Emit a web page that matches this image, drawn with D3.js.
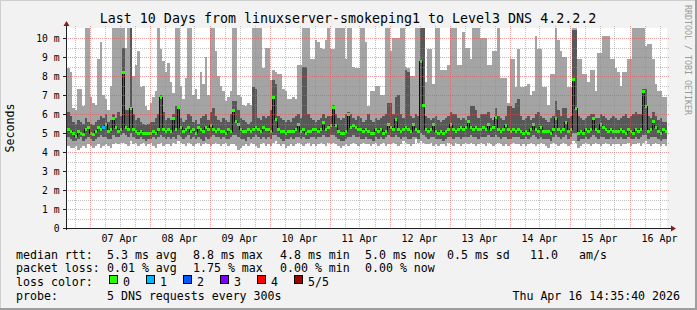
<!DOCTYPE html>
<html>
<head>
<meta charset="utf-8">
<script src="https://cdn.jsdelivr.net/npm/d3@7"></script>
<style>
  body { margin: 0; background: #fff; }
  text { font-family: "DejaVu Sans Mono", monospace; }
</style>
</head>
<body>
<svg id="chart" width="697" height="310"></svg>
<script>
'use strict';

// hourly smoke bands (ms): outer low/high, inner low/high, median
var hi = [8.4,8.2,6.3,6.2,7.3,7.3,6.4,11,11,6.9,6.6,6.5,8.9,9.8,7.0,6.8,6.2,7.5,11,11,
  11,11,11,9.5,11,11,8.0,8.6,9.3,7.4,7.5,6.4,6.2,6.6,6.9,7.2,11,9.4,8.8,8.2,
  8.7,7.7,7.1,10.6,11,7.5,6.8,7.9,11,11,7.0,7.3,6.8,8.2,7.6,9.0,7.0,11,11,9.3,
  8.0,7.5,7.2,6.7,6.9,7.2,11,11,7.0,6.9,6.5,6.4,6.6,6.5,11,11,11,11,8.4,9.5,
  9.5,7.8,8.3,8.2,8.1,8.1,7.3,7.2,6.8,6.8,6.9,6.8,8.6,8.6,11,11,11,8.9,8.9,9.9,
  9.8,9.5,9.4,9.9,11,9.4,9.4,11,11,11,11,8.9,11,11,8.5,8.4,8.4,11,11,9.8,
  6.4,7.2,7.2,7.5,7.5,7.0,7.0,11,11,9.3,10.0,10.0,10.0,11,11,8.5,8.4,8.0,8.0,11,
  11,11,11,7.7,9.4,9.4,7.6,11,11,8.3,8.3,8.3,8.6,11,11,11,8.6,8.6,10.3,9.5,
  9.5,8.9,11,11,11,10.0,10.0,10.0,8.6,8.6,9.3,9.3,11,7.9,7.9,7.9,6.6,8.9,8.9,7.4,
  9.4,7.4,7.4,7.5,7.6,7.0,7.2,10.1,9.4,9.4,7.4,7.4,6.5,8.1,8.1,11,9.9,9.3,9.0,9.0,
  7.4,7.4,11,11,8.9,8.9,8.1,8.1,7.7,8.3,8.3,7.2,9.2,9.2,10.1,10.1,10.1,8.9,8.9,8.4,
  8.2,7.5,8.2,8.2,8.9,8.9,11,11,11,11,11,9.6,9.7,9.7,8.9,7.6,7.2,7.2,6.9,6.9];

var dhi = [6.1,5.9,5.6,5.5,5.7,5.6,5.5,5.8,5.6,5.5,5.4,5.6,5.7,5.9,5.8,6.0,5.6,5.7,6.0,5.8,
  6.1,5.9,9.5,6.2,6.2,11,6.0,5.7,5.8,5.6,5.5,5.4,5.5,5.6,5.6,5.8,6.0,7.0,6.1,5.7,
  5.8,5.7,6.0,6.4,6.4,5.8,5.6,5.7,6.0,5.9,5.6,5.7,5.5,5.8,5.9,6.0,5.7,6.1,6.3,5.9,
  5.7,5.6,5.8,5.7,5.6,6.0,6.7,6.7,6.2,5.8,5.7,5.6,5.5,5.6,7.4,7.3,5.8,5.7,5.9,5.8,
  5.9,6.2,7.8,7.6,5.9,5.8,5.7,5.6,5.7,5.6,5.8,5.9,6.0,5.8,8.5,8.5,6.0,5.8,5.7,5.6,
  5.7,5.8,6.0,5.8,5.9,5.9,6.5,6.0,5.8,5.7,5.8,6.0,6.1,6.0,5.8,5.7,5.9,5.8,5.6,5.7,
  6.0,5.7,5.6,5.8,5.7,5.8,5.9,6.0,6.6,6.6,6.0,6.9,7.0,6.0,5.8,8.3,8.2,5.9,5.8,6.0,
  5.9,11,11,5.9,5.8,5.7,5.8,5.9,5.7,5.6,5.7,5.8,5.9,6.1,6.0,6.0,5.8,5.7,5.8,5.7,
  5.9,6.4,6.4,6.2,5.8,6.0,6.0,6.0,6.1,5.8,5.7,6.3,5.9,5.8,5.7,5.9,6.4,6.4,6.3,6.6,
  6.8,5.9,5.7,5.8,5.9,5.7,5.8,6.0,6.1,5.9,5.8,5.7,5.6,5.8,5.9,6.7,6.2,5.9,6.3,6.3,
  5.8,5.9,10.4,10.4,5.9,5.8,5.7,5.8,5.9,6.0,6.0,5.8,5.8,6.0,5.9,5.8,5.7,5.8,5.9,5.8,
  5.7,5.8,5.9,6.0,5.8,5.9,6.0,6.1,6.0,6.0,7.3,7.3,5.9,5.8,6.1,5.9,5.7,5.8,5.6,5.6];

var med = [5.2,5.1,5.0,4.8,5.1,5.0,4.9,5.2,5.3,5.0,4.9,5.1,5.3,5.2,5.3,5.47,5.1,5.2,5.74,5.3,
  5.1,5.2,8.19,5.3,5.2,6.3,5.2,5.1,5.0,5.1,5.0,5.0,5.0,5.0,5.1,5.0,5.2,6.88,5.2,5.1,
  5.2,5.1,5.77,5.2,6.35,5.3,5.1,5.2,5.3,5.1,5.2,5.0,5.3,5.2,5.1,5.3,5.2,5.4,5.2,5.1,
  5.2,5.1,5.1,5.0,5.2,5.1,6.19,5.63,5.46,5.2,5.1,5.1,5.2,5.1,5.2,5.3,5.2,5.1,5.3,5.2,
  5.2,5.1,6.89,5.73,5.2,5.1,5.1,5.0,5.1,5.1,5.1,5.2,5.46,5.1,5.2,5.0,5.1,5.1,5.2,5.2,
  5.1,5.2,5.56,5.2,5.3,5.4,6.35,5.4,5.1,5.0,5.0,5.1,5.95,5.3,5.4,5.3,5.2,5.2,5.1,5.2,
  5.1,5.0,5.0,5.2,5.1,5.2,5.0,5.1,5.46,5.3,5.2,5.72,5.2,5.1,5.2,5.3,5.2,5.1,5.47,5.2,
  5.1,8.75,6.44,5.2,5.1,5.2,5.47,5.1,5.0,5.1,5.0,5.1,5.2,5.44,5.2,5.1,5.2,5.3,5.2,5.3,
  5.6,5.3,5.2,5.3,5.2,5.2,5.3,5.2,5.46,5.2,5.3,5.83,5.2,5.1,5.2,5.39,5.2,5.1,5.2,5.1,
  5.2,5.1,5.0,5.1,5.0,5.2,5.44,5.2,5.1,5.3,5.1,5.1,5.1,5.0,5.2,5.74,5.2,5.1,5.2,5.53,
  5.1,5.2,7.81,6.3,5.0,5.1,5.0,5.2,5.1,5.2,5.74,5.2,5.1,5.44,5.3,5.2,5.1,5.2,5.1,5.1,
  5.1,5.2,5.1,5.0,5.2,5.1,5.0,5.2,5.1,5.2,7.18,6.37,5.1,5.2,5.6,5.3,5.1,5.0,5.2,5.1];

var dlo = [4.8,4.7,4.6,4.6,4.7,4.8,4.6,4.7,4.8,4.7,4.6,4.7,4.8,4.9,4.8,4.8,4.7,4.7,4.9,4.8,
  4.8,4.9,5.0,4.9,4.8,5.0,4.8,4.7,4.7,4.8,4.7,4.6,4.7,4.7,4.8,4.7,4.8,4.9,4.8,4.7,
  4.8,4.7,4.8,4.7,4.9,4.8,4.7,4.8,4.9,4.7,4.8,4.7,4.8,4.7,4.6,4.8,4.7,4.8,4.9,4.8,
  4.8,4.7,4.8,4.7,4.7,4.8,4.9,4.9,4.8,4.7,4.7,4.6,4.8,4.7,4.8,4.9,4.8,4.7,4.8,4.7,
  4.8,4.7,4.9,4.9,4.8,4.7,4.6,4.7,4.7,4.8,4.7,4.8,4.8,4.7,4.8,4.7,4.7,4.8,4.8,4.7,
  4.8,4.8,4.9,4.8,4.8,4.9,4.9,4.8,4.7,4.6,4.6,4.7,4.8,4.8,4.9,4.8,4.8,4.7,4.7,4.8,
  4.7,4.7,4.6,4.8,4.7,4.8,4.7,4.8,4.9,4.8,4.8,4.9,4.8,4.7,4.8,4.8,4.7,4.7,4.8,4.8,
  4.7,5.0,4.9,4.8,4.7,4.8,4.8,4.7,4.7,4.7,4.6,4.7,4.8,4.8,4.7,4.8,4.8,4.7,4.8,4.8,
  4.8,4.9,4.8,4.8,4.7,4.8,4.8,4.8,4.9,4.8,4.8,4.9,4.8,4.7,4.8,4.8,4.7,4.7,4.8,4.8,
  4.8,4.7,4.7,4.8,4.7,4.8,4.9,4.8,4.7,4.8,4.7,4.7,4.7,4.6,4.8,4.9,4.8,4.7,4.8,4.9,
  4.7,4.8,5.0,5.0,4.6,4.7,4.7,4.8,4.7,4.8,4.9,4.8,4.7,4.8,4.8,4.7,4.7,4.8,4.7,4.8,
  4.7,4.8,4.7,4.7,4.8,4.7,4.7,4.8,4.7,4.8,4.9,4.9,4.7,4.8,4.8,4.8,4.7,4.6,4.7,4.7];

var lo = [4.3,4.2,4.2,4.3,4.1,4.2,4.3,4.2,4.4,4.3,4.2,4.3,4.4,4.2,4.3,4.4,4.3,4.2,4.4,4.5,
  4.4,4.5,4.5,4.4,4.3,4.6,4.4,4.5,4.3,4.4,4.5,4.3,4.4,4.5,4.3,4.2,4.4,4.5,4.3,4.4,
  4.4,4.3,4.5,4.4,4.6,4.5,4.4,4.3,4.5,4.4,4.3,4.4,4.5,4.3,4.4,4.5,4.4,4.3,4.4,4.5,
  4.4,4.3,4.4,4.5,4.3,4.4,4.4,4.3,4.1,4.2,4.3,4.4,4.3,4.5,4.4,4.3,4.2,4.4,4.5,4.3,
  4.4,4.3,4.5,4.6,4.4,4.3,4.4,4.2,4.3,4.4,4.3,4.4,4.5,4.4,4.3,4.4,4.5,4.3,4.4,4.3,
  4.4,4.5,4.4,4.3,4.5,4.4,4.5,4.4,4.3,4.2,4.3,4.4,4.3,4.4,4.5,4.4,4.3,4.4,4.5,4.4,
  4.4,4.3,4.4,4.5,4.3,4.4,4.5,4.3,4.4,4.4,4.5,4.4,4.3,4.4,4.6,4.5,4.4,4.3,4.4,4.7,
  4.5,4.6,4.5,4.4,4.4,4.5,4.3,4.4,4.3,4.4,4.4,4.3,4.5,4.4,4.3,4.5,4.4,4.3,4.4,4.5,
  4.4,4.5,4.4,4.3,4.4,4.5,4.4,4.3,4.5,4.4,4.3,4.4,4.5,4.4,4.3,4.4,4.3,4.4,4.5,4.4,
  4.4,4.3,4.4,4.3,4.4,4.5,4.4,4.3,4.4,4.5,4.4,4.3,4.2,4.4,4.5,4.4,4.3,4.4,4.5,4.4,
  4.3,4.4,4.6,4.5,4.2,4.3,4.4,4.5,4.4,4.3,4.4,4.5,4.4,4.3,4.4,4.5,4.4,4.3,4.4,4.4,
  4.4,4.3,4.4,4.4,4.5,4.3,4.4,4.4,4.5,4.3,4.5,4.6,4.4,4.3,4.4,4.5,4.4,4.3,4.4,4.3];

// columns with packet loss: [column, lost pings]
var lossAt = [[14, 1]];
var lossColors = ['#26ff00', '#00b8ff', '#0059ff', '#7e00ff', '#ff0000', '#a10000'];
var lossLabels = ['0', '1', '2', '3', '4', '5/5'];

var yTicks = [0, 1, 2, 3, 4, 5, 6, 7, 8, 9, 10];
var yTickLabels = ['0', '1 m', '2 m', '3 m', '4 m', '5 m', '6 m', '7 m', '8 m', '9 m', '10 m'];
var dayLabels = ['07 Apr', '08 Apr', '09 Apr', '10 Apr', '11 Apr', '12 Apr', '13 Apr', '14 Apr', '15 Apr', '16 Apr'];

var title = 'Last 10 Days from linuxserver-smokeping1 to Level3 DNS 4.2.2.2';
var statsRtt = ['5.3 ms avg', '8.8 ms max', '4.8 ms min', '5.0 ms now', '0.5 ms sd', '11.0', 'am/s'];
var statsLoss = ['0.01 % avg', '1.75 % max', '0.00 % min', '0.00 % now'];
var probeText = '5 DNS requests every 300s';
var stamp = 'Thu Apr 16 14:35:40 2026';

var W = 697, H = 310;
var x0 = 67, x1 = 667, yTop = 28, yBot = 228;
var t0 = Date.UTC(2026, 3, 6, 15), t1 = Date.UTC(2026, 3, 16, 15);
var HOUR = 3600e3;

var svg = d3.select('#chart');
var x = d3.scaleUtc().domain([t0, t1]).range([x0, x1]);
var y = d3.scaleLinear().domain([0, (yBot - yTop) / 19]).range([yBot, yTop]);

// dot patterns for the dotted grid (1px on, 1px off), semi-transparent like rrdtool
var defs = svg.append('defs');
function dotPattern(id, w, h, color) {
  defs.append('pattern').attr('id', id).attr('patternUnits', 'userSpaceOnUse')
    .attr('x', 0).attr('y', 0).attr('width', w).attr('height', h)
    .append('rect').attr('width', 1).attr('height', 1).style('fill', color);
}
var minorCol = 'rgba(143,143,143,0.55)', majorCol = 'rgba(222,79,79,0.55)';
dotPattern('hMinor', 2, 1, minorCol);
dotPattern('hMajor', 2, 1, majorCol);
dotPattern('vMinor', 1, 2, minorCol);
dotPattern('vMajor', 1, 2, majorCol);

// background + border shades
svg.append('rect').attr('width', W).attr('height', H).style('fill', '#f2f2f2');
svg.append('rect').attr('x', 0).attr('y', 0).attr('width', W).attr('height', 1).style('fill', '#cfcfcf');
svg.append('rect').attr('x', 0).attr('y', 0).attr('width', 1).attr('height', H).style('fill', '#cfcfcf');
svg.append('rect').attr('x', 0).attr('y', H - 2).attr('width', W).attr('height', 2).style('fill', '#9e9e9e');
svg.append('rect').attr('x', W - 2).attr('y', 0).attr('width', 2).attr('height', H).style('fill', '#9e9e9e');
svg.append('rect').attr('x', x0).attr('y', yTop).attr('width', x1 - x0).attr('height', yBot - yTop).style('fill', '#fff');

svg.append('clipPath').attr('id', 'plotclip').append('rect')
  .attr('x', x0).attr('y', yTop).attr('width', x1 - x0).attr('height', yBot - yTop);

var cols = d3.range(hi.length).map(function (i) {
  return { i: i, t: t0 + i * HOUR, lo: lo[i], dlo: dlo[i], med: med[i], dhi: dhi[i], hi: hi[i] };
});
var lossOf = {};
lossAt.forEach(function (d) { lossOf[d[0]] = d[1]; });

var plot = svg.append('g').attr('clip-path', 'url(#plotclip)').attr('shape-rendering', 'crispEdges');

function band(cls, color, a, b) {
  plot.selectAll('rect.' + cls).data(cols).enter().append('rect')
    .attr('class', cls)
    .attr('x', function (d) { return x(d.t); })
    .attr('width', function (d) { return x(d.t + HOUR) - x(d.t); })
    .attr('y', function (d) { return y(d[b]); })
    .attr('height', function (d) { return y(d[a]) - y(d[b]); })
    .style('fill', color);
}
band('outer', '#a4a4a4', 'lo', 'hi');
band('inner', '#585858', 'dlo', 'dhi');

// median step line
var stepPts = cols.map(function (d) { return [d.t, d.med]; });
stepPts.push([t1, med[med.length - 1]]);
plot.append('path')
  .datum(stepPts)
  .attr('d', d3.line().x(function (d) { return x(d[0]); }).y(function (d) { return y(d[1]); }).curve(d3.curveStepAfter))
  .style('fill', 'none').style('stroke', '#111').style('stroke-width', 1);

// loss-coloured median marks
plot.selectAll('rect.med').data(cols).enter().append('rect')
  .attr('class', 'med')
  .attr('x', function (d) { return x(d.t); })
  .attr('width', function (d) { return x(d.t + HOUR) - x(d.t); })
  .attr('y', function (d) { return y(d.med) - 1.5; })
  .attr('height', 3)
  .style('fill', function (d) { return lossColors[lossOf[d.i] || 0]; });

// dotted grid on top of the smoke
var grid = svg.append('g').attr('shape-rendering', 'crispEdges');
function hLines(vals, pat) {
  grid.selectAll(null).data(vals).enter().append('rect')
    .attr('x', x0 - 2).attr('width', x1 - x0 + 4)
    .attr('y', function (d) { return Math.round(y(d)); }).attr('height', 1)
    .style('fill', 'url(#' + pat + ')');
}
function vLines(vals, pat) {
  grid.selectAll(null).data(vals).enter().append('rect')
    .attr('x', function (d) { return Math.round(x(d)); }).attr('width', 1)
    .attr('y', yTop - 2).attr('height', yBot - yTop + 4)
    .style('fill', 'url(#' + pat + ')');
}
hLines(d3.range(0.5, 10.5, 1), 'hMinor');
hLines(yTicks.slice(1), 'hMajor');
var sixHours = d3.utcHour.every(6).range(new Date(t0), new Date(t1));
vLines(sixHours.filter(function (d) { return d.getUTCHours() !== 0; }), 'vMinor');
vLines(sixHours.filter(function (d) { return d.getUTCHours() === 0; }), 'vMajor');

// axes
var axes = svg.append('g').attr('shape-rendering', 'crispEdges');
axes.append('line').attr('x1', x0 - 2).attr('x2', x1 + 6).attr('y1', yBot + 0.5).attr('y2', yBot + 0.5)
  .style('stroke', '#1f1f1f');
axes.append('line').attr('x1', x0 - 0.5).attr('x2', x0 - 0.5).attr('y1', yBot + 2).attr('y2', yTop - 5)
  .style('stroke', '#1f1f1f');
axes.selectAll('line.ytick').data(yTicks).enter().append('line')
  .attr('x1', x0 - 4).attr('x2', x0)
  .attr('y1', function (d) { return Math.round(y(d)) + 0.5; })
  .attr('y2', function (d) { return Math.round(y(d)) + 0.5; })
  .style('stroke', '#1f1f1f');
svg.append('path').attr('d', 'M' + (x0 - 3.5) + ',' + (yTop - 2) + 'L' + (x0 - 0.5) + ',' + (yTop - 7) + 'L' + (x0 + 2.5) + ',' + (yTop - 2) + 'Z')
  .style('fill', '#801f1f');
svg.append('path').attr('d', 'M' + (x1 + 4) + ',' + (yBot - 2.5) + 'L' + (x1 + 9) + ',' + (yBot + 0.5) + 'L' + (x1 + 4) + ',' + (yBot + 3.5) + 'Z')
  .style('fill', '#801f1f');

// axis labels
svg.selectAll('text.yl').data(yTicks).enter().append('text')
  .attr('x', 59.5).attr('y', function (d) { return y(d) + 3.5; })
  .attr('text-anchor', 'end').style('font-size', '9.7px').style('fill', '#000')
  .text(function (d, i) { return yTickLabels[i]; });
svg.selectAll('text.xl').data(dayLabels).enter().append('text')
  .attr('x', function (d, i) { return x(Date.UTC(2026, 3, 7 + i, 12)); })
  .attr('y', 241.5).attr('text-anchor', 'middle').style('font-size', '10px').style('fill', '#000')
  .text(function (d) { return d; });

svg.append('text').attr('transform', 'translate(14,128) rotate(-90)')
  .attr('text-anchor', 'middle').style('font-size', '11.6px').text('Seconds');
svg.append('text').attr('x', 348).attr('y', 23).attr('text-anchor', 'middle')
  .style('font-size', '13.3px').text(title);
svg.append('text').attr('transform', 'translate(685,60) rotate(90)')
  .attr('text-anchor', 'middle').style('font-size', '8.3px').style('fill', '#9a9a9a')
  .text('RRDTOOL / TOBI OETIKER');

// legend
var fs = '11.6px';
function legendText(tx, ty, s) {
  svg.append('text').attr('x', tx).attr('y', ty).style('font-size', fs).style('white-space', 'pre').text(s);
}
var rowY = [258.5, 272, 286, 300];
legendText(16, rowY[0], 'median rtt:');
var rttX = [107, 193, 280, 365, 447, 530, 579];
statsRtt.forEach(function (s, i) { legendText(rttX[i], rowY[0], s); });
legendText(16, rowY[1], 'packet loss:');
statsLoss.forEach(function (s, i) { legendText(rttX[i], rowY[1], s); });
legendText(16, rowY[2], 'loss color:');
lossColors.forEach(function (c, i) {
  svg.append('rect').attr('x', 109.5 + i * 37).attr('y', 275.5).attr('width', 8).attr('height', 8)
    .attr('shape-rendering', 'crispEdges')
    .style('fill', c).style('stroke', '#000').style('stroke-width', 1);
  legendText(123 + i * 37, rowY[2], lossLabels[i]);
});
legendText(16, rowY[3], 'probe:');
legendText(107, rowY[3], probeText);
svg.append('text').attr('x', 680).attr('y', rowY[3]).attr('text-anchor', 'end')
  .style('font-size', fs).text(stamp);
</script>
</body>
</html>
